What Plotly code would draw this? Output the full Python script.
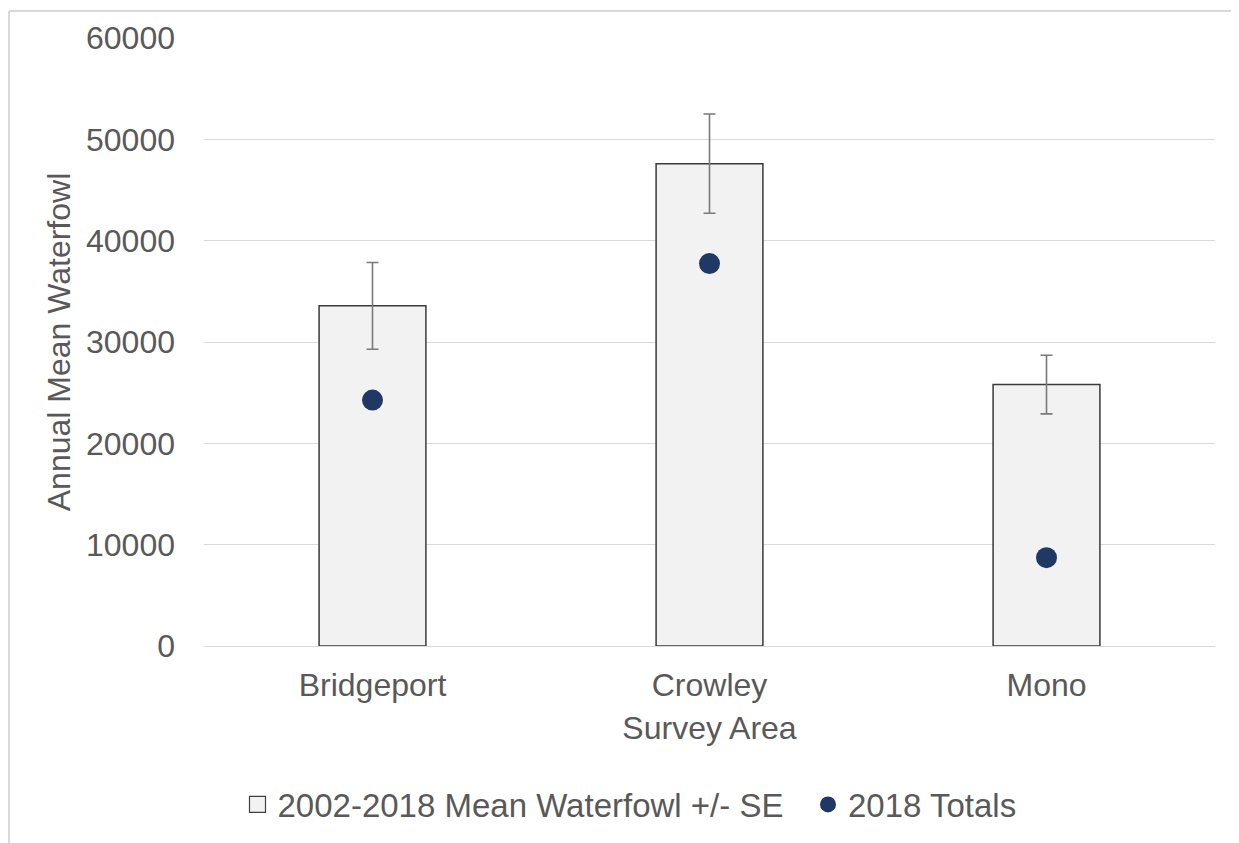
import plotly.graph_objects as go

categories = ["Bridgeport", "Crowley", "Mono"]
mean_waterfowl = [33570, 47600, 25800]
mean_se = [4280, 4900, 2890]
totals_2018 = [24270, 37740, 8720]
y_ticks = [0, 10000, 20000, 30000, 40000, 50000, 60000]

text_color = "#595959"
font_family = "Liberation Sans, Arial, sans-serif"

# figure coordinates (page body adds an 8px offset)
W, H = 1231, 843
L, T, PW, PH = 196, 28, 1011, 610

fig = go.Figure()
fig.add_trace(go.Bar(
    x=categories, y=mean_waterfowl, name="2002-2018 Mean Waterfowl +/- SE",
    marker=dict(color="#f2f2f2", line=dict(color="#3a3a3a", width=1.5)),
    error_y=dict(type="data", array=mean_se, visible=True, color="#7a7a7a",
                 thickness=1.6, width=6),
    width=0.317, showlegend=False, legendgroup="mean",
))
# legend entry for the bars (square swatch like the original)
fig.add_trace(go.Scatter(
    x=[None], y=[None], name="2002-2018 Mean Waterfowl +/- SE", mode="markers",
    marker=dict(symbol="square", color="#f2f2f2", size=17,
                line=dict(color="#404040", width=1.2)),
    legendgroup="mean", legend="legend",
))
fig.add_trace(go.Scatter(
    x=categories, y=totals_2018, name="2018 Totals", mode="markers",
    marker=dict(color="#1f3864", size=21), legend="legend2",
))

legend_y = (T + PH - 797) / PH
legend_common = dict(orientation="h", xanchor="left", y=legend_y, yanchor="middle",
                     font=dict(size=33, color=text_color), itemsizing="trace",
                     bgcolor="rgba(0,0,0,0)")

fig.update_layout(
    width=W, height=H,
    margin=dict(l=L, r=W - L - PW, t=T, b=H - T - PH),
    paper_bgcolor="white", plot_bgcolor="white",
    font=dict(family=font_family, size=32, color=text_color),
    showlegend=True,
    legend=dict(x=(229.5 - L) / PW, **legend_common),
    legend2=dict(x=(800 - L) / PW, **legend_common),
)
fig.update_xaxes(
    title=dict(text="Survey Area", standoff=14, font=dict(size=32, color=text_color)),
    showgrid=False, showline=False, ticks="", ticklabelstandoff=17,
    tickfont=dict(size=32, color=text_color),
)
fig.update_yaxes(
    range=[0, 60000], tickvals=y_ticks, tickformat="d",
    showgrid=True, gridcolor="#d9d9d9", gridwidth=1,
    zeroline=True, zerolinecolor="#d9d9d9", zerolinewidth=1,
    showline=False, ticks="", ticklabelstandoff=28,
    tickfont=dict(size=32, color=text_color),
    title=dict(text="Annual Mean Waterfowl", standoff=5, font=dict(size=32, color=text_color)),
)

# outer frame (left and top edges)
fx0 = (1 - L) / PW
fx1 = (W - L) / PW
fy_top = (T + PH - 1) / PH
fy_bot = (T + PH - H) / PH
fig.add_shape(type="line", xref="paper", yref="paper", x0=fx0, x1=fx0, y0=fy_bot, y1=fy_top,
              line=dict(color="#d9d9d9", width=2), layer="below")
fig.add_shape(type="line", xref="paper", yref="paper", x0=fx0, x1=fx1, y0=fy_top, y1=fy_top,
              line=dict(color="#d9d9d9", width=2), layer="below")

fig.write_html("out.html")
